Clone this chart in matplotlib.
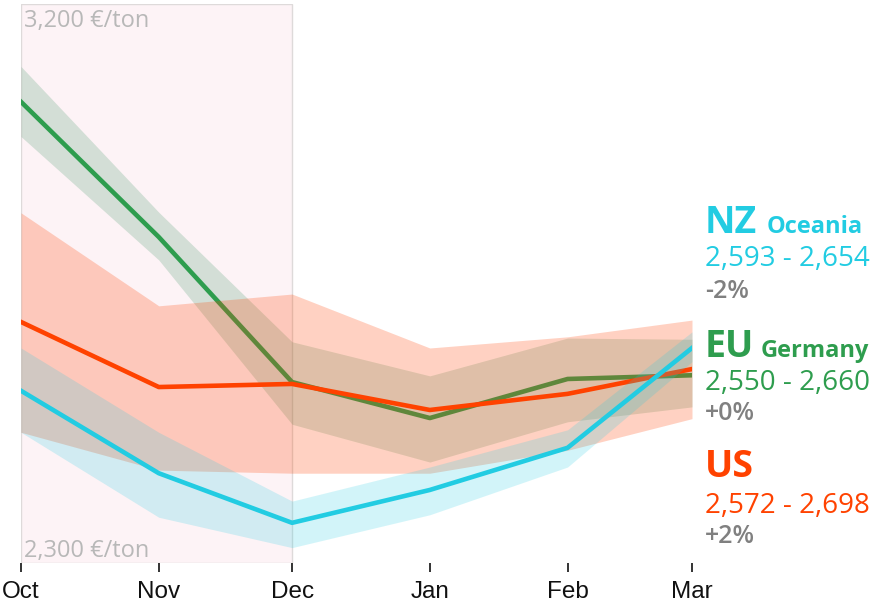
import matplotlib
matplotlib.use("Agg")
import matplotlib.pyplot as plt
import matplotlib.dates as mdates
import pandas as pd
from matplotlib.patches import Rectangle

months = ["Oct", "Nov", "Dec", "Jan", "Feb", "Mar"]
dates = pd.to_datetime(["2022-10-01", "2022-11-01", "2022-12-01",
                        "2023-01-01", "2023-02-01", "2023-03-01"])

# EU (Germany)
eu_mid = [3043, 2825, 2591, 2533, 2596, 2602]
eu_hi = [3100, 2865, 2656, 2601, 2662, 2660]
eu_lo = [2987, 2788, 2523, 2462, 2527, 2551]

# US
us_mid = [2688, 2583, 2588, 2546, 2572, 2612]
us_hi = [2864, 2714, 2733, 2646, 2664, 2691]
us_lo = [2510, 2449, 2444, 2444, 2481, 2532]

# NZ (Oceania)
nz_mid = [2577, 2444, 2364, 2417, 2485, 2646]
nz_hi = [2646, 2510, 2399, 2454, 2514, 2672]
nz_lo = [2510, 2373, 2324, 2377, 2454, 2624]

y_min, y_max = 2300, 3200

GREEN = "#2e9d4e"
ORANGE = "#ff4200"
CYAN = "#22cce2"
GREY = "#808080"

W, H = 873, 604
fig = plt.figure(figsize=(W / 100, H / 100), dpi=100)
ax = fig.add_axes([21 / W, 1 - 562.5 / H, (692 - 21) / W, (562.5 - 4.5) / H])

x = mdates.date2num(dates)

# highlighted period Oct-Dec
ax.add_patch(Rectangle((x[0], y_min), x[2] - x[0], y_max - y_min, facecolor="#fdf3f6",
                       edgecolor="#dedada", lw=1, zorder=0))

ax.fill_between(x, eu_lo, eu_hi, color="#2e8b57", alpha=0.2, lw=0, zorder=1)
ax.plot(x, eu_mid, color=GREEN, lw=3.3, zorder=1)
ax.fill_between(x, us_lo, us_hi, color=ORANGE, alpha=0.24, lw=0, zorder=1)
ax.plot(x, us_mid, color=ORANGE, lw=3.3, zorder=1)
ax.fill_between(x, nz_lo, nz_hi, color=CYAN, alpha=0.2, lw=0, zorder=1)
ax.plot(x, nz_mid, color=CYAN, lw=3.3, zorder=1)

ax.set_xlim(x[0], x[-1])
ax.set_ylim(y_min, y_max)
ax.set_xticks(x)
ax.set_xticklabels(months, fontsize=17.5, family="Liberation Sans", color="#111111")
ax.set_yticks([])
ax.tick_params(axis="x", length=6.5, width=1.2, color="#111111", pad=7)
for s in ax.spines.values():
    s.set_visible(False)


def ftext(px, py, s, **kw):
    fig.text(px / W, 1 - py / H, s, va="baseline", family="Open Sans", **kw)


ftext(24, 27, "3,200 €/ton", fontsize=17, color="#b8b8b8")
ftext(24, 557, "2,300 €/ton", fontsize=17, color="#b8b8b8")

# right-hand labels
ftext(705, 233, "NZ", fontsize=27, fontweight="bold", color=CYAN)
ftext(767, 233, "Oceania", fontsize=17, fontweight="bold", color=CYAN)
ftext(705, 266, "2,593 - 2,654", fontsize=20, color=CYAN)
ftext(705, 298, "-2%", fontsize=18, fontweight="semibold", color=GREY)

ftext(705, 357, "EU", fontsize=27, fontweight="bold", color=GREEN)
ftext(761, 357, "Germany", fontsize=17, fontweight="bold", color=GREEN)
ftext(705, 390, "2,550 - 2,660", fontsize=20, color=GREEN)
ftext(705, 420, "+0%", fontsize=18, fontweight="semibold", color=GREY)

ftext(705, 477, "US", fontsize=27, fontweight="bold", color=ORANGE)
ftext(705, 513, "2,572 - 2,698", fontsize=20, color=ORANGE)
ftext(705, 543, "+2%", fontsize=18, fontweight="semibold", color=GREY)

fig.savefig("out.png", dpi=100)
